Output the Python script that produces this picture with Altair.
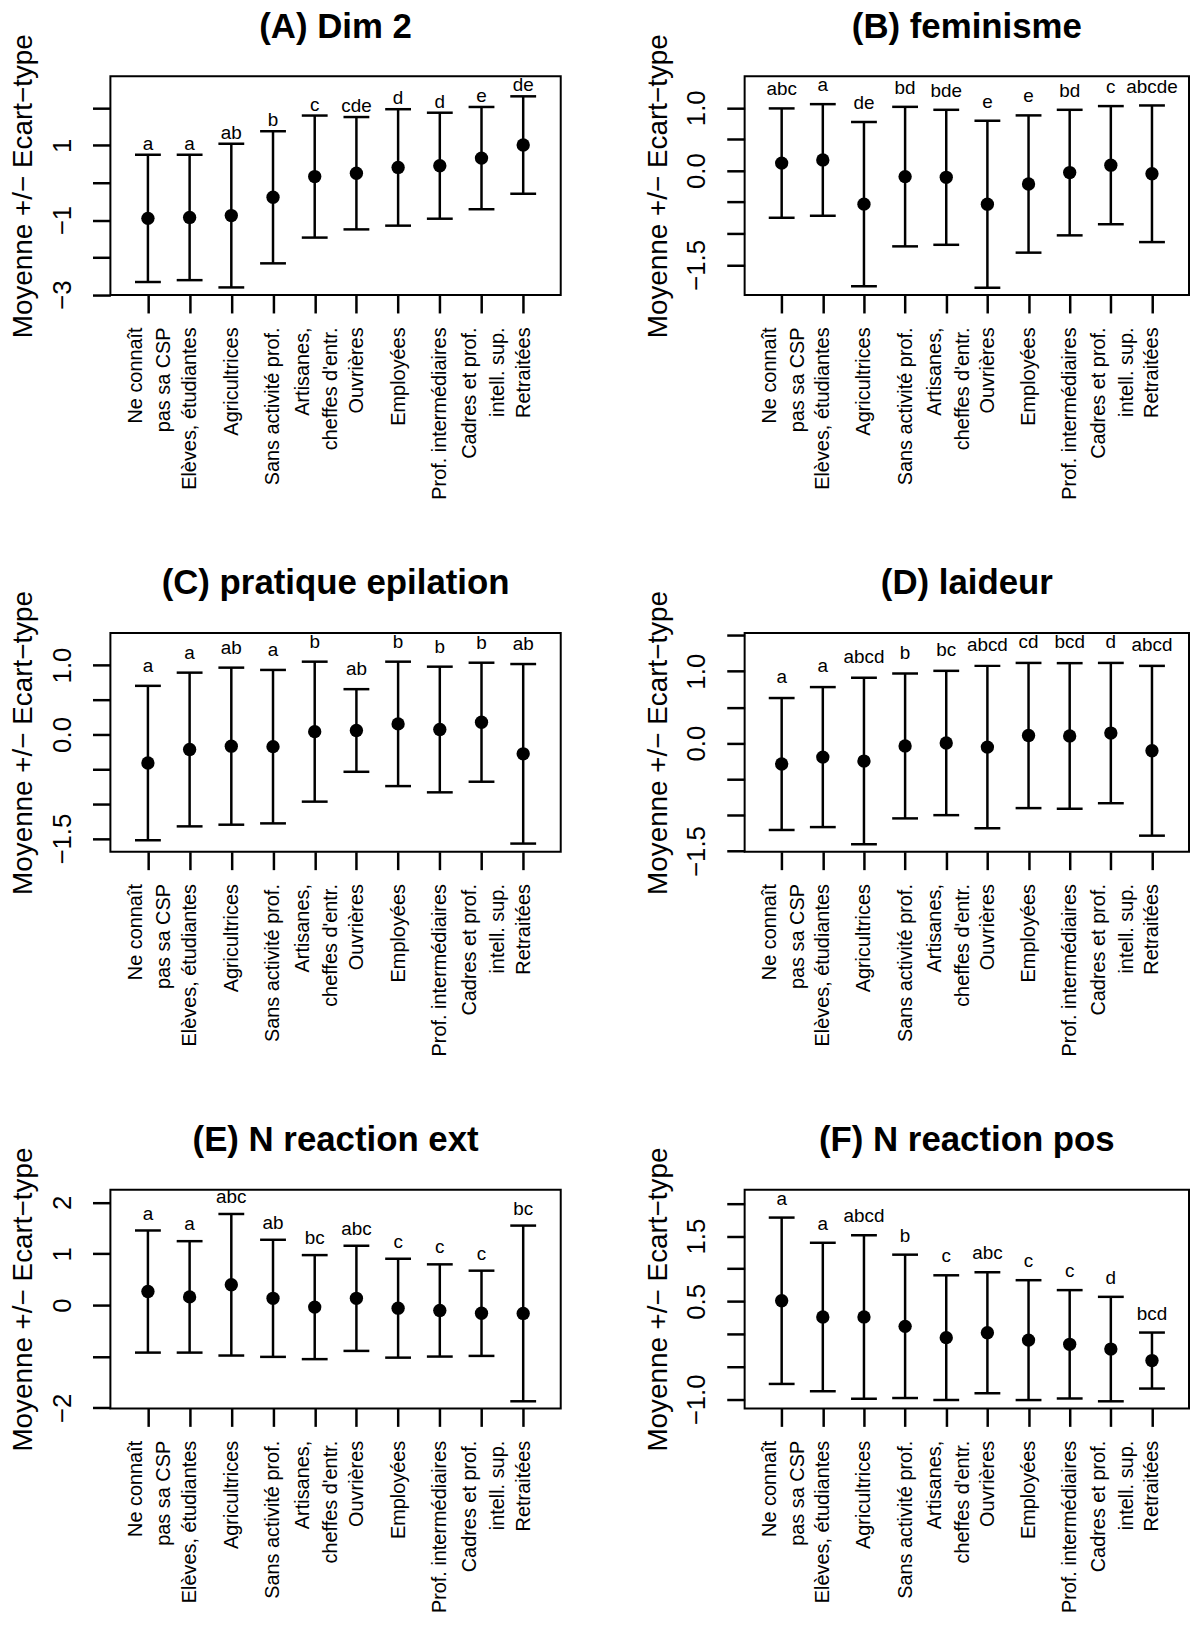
import json
import altair as alt
import pandas as pd

categories = [
    "Ne connaît\npas sa CSP", "Elèves, étudiantes", "Agricultrices",
    "Sans activité prof.", "Artisanes,\ncheffes d'entr.", "Ouvrières",
    "Employées", "Prof. intermédiaires", "Cadres et prof.\nintell. sup.",
    "Retraitées",
]

titles = ["(A) Dim 2", "(B) feminisme", "(C) pratique epilation",
          "(D) laideur", "(E) N reaction ext", "(F) N reaction pos"]

mean_A = [-0.955, -0.93, -0.88, -0.39, 0.165, 0.255, 0.41, 0.456, 0.66, 1.01]
sd_A = [1.705, 1.68, 1.925, 1.77, 1.635, 1.505, 1.56, 1.42, 1.37, 1.305]
let_A = ["a", "a", "ab", "b", "c", "cde", "d", "d", "e", "de"]

mean_B = [0.12, 0.17, -0.533, -0.095, -0.106, -0.534, -0.213, -0.031, 0.087, -0.05]
sd_B = [0.87, 0.888, 1.307, 1.11, 1.074, 1.329, 1.092, 0.999, 0.94, 1.087]
let_B = ["abc", "a", "de", "bd", "bde", "e", "e", "bd", "c", "abcde"]

mean_C = [-0.412, -0.217, -0.169, -0.176, 0.04, 0.057, 0.152, 0.071, 0.176, -0.279]
sd_C = [1.112, 1.107, 1.131, 1.105, 1.008, 0.595, 0.896, 0.905, 0.857, 1.293]
let_C = ["a", "a", "ab", "a", "b", "ab", "b", "b", "b", "ab"]

mean_D = [-0.29, -0.194, -0.249, -0.039, 0.002, -0.055, 0.106, 0.1, 0.14, -0.106]
sd_D = [0.917, 0.973, 1.157, 1.007, 1.003, 1.129, 1.009, 1.012, 0.975, 1.18]
let_D = ["a", "a", "abcd", "b", "bc", "abcd", "cd", "bcd", "d", "abcd"]

mean_E = [0.265, 0.161, 0.397, 0.133, -0.038, 0.133, -0.059, -0.103, -0.158, -0.161]
sd_E = [1.188, 1.084, 1.377, 1.139, 1.012, 1.023, 0.962, 0.897, 0.829, 1.709]
let_E = ["a", "a", "abc", "ab", "bc", "abc", "c", "c", "c", "bc"]

mean_F = [0.51, 0.261, 0.2625, 0.118, -0.055, 0.02, -0.093, -0.157, -0.23, -0.406]
sd_F = [1.274, 1.137, 1.2525, 1.098, 0.955, 0.927, 0.918, 0.83, 0.80, 0.429]
let_F = ["a", "a", "abcd", "b", "c", "abc", "c", "c", "d", "bcd"]

# y axis: domain, tick values, labelled ticks
dom_A, ticks_A, shown_A = [-3.01, 2.85], [-3, -2, -1, 0, 1, 2], [-3, -1, 1]
dom_B, ticks_B, shown_B = [-1.98, 1.5], [-1.5, -1.0, -0.5, 0.0, 0.5, 1.0], [-1.5, 0.0, 1.0]
dom_C, ticks_C, shown_C = [-1.69, 1.46], [-1.5, -1.0, -0.5, 0.0, 0.5, 1.0], [-1.5, 0.0, 1.0]
dom_D, ticks_D, shown_D = [-1.51, 1.53], [-1.5, -1.0, -0.5, 0.0, 0.5, 1.0, 1.5], [-1.5, 0.0, 1.0]
dom_E, ticks_E, shown_E = [-2.01, 2.245], [-2, -1, 0, 1, 2], [-2, 0, 1, 2]
dom_F, ticks_F, shown_F = [-1.14, 2.21], [-1.0, -0.5, 0.0, 0.5, 1.0, 1.5, 2.0], [-1.0, 0.5, 1.5]

FONT = "Liberation Sans"
H = 220


def panel(title, means, sds, letters, dom, ticks, shown, fmt, width, dy):
    df = pd.DataFrame({"cat": categories, "mean": means, "sd": sds, "letter": letters})
    base = alt.Chart(df).transform_calculate(
        lo="datum.mean - datum.sd", hi="datum.mean + datum.sd"
    )
    xscale = alt.Scale(type="point", padding=0.9)
    xaxis = alt.Axis(
        labelAngle=270, labelAlign="right", labelBaseline="middle",
        labelExpr="split(datum.label, '\\n')", labelFontSize=20,
        labelLineHeight=28, labelPadding=14, labelLimit=400,
        labelOffset={"condition": {"test": "indexof(datum.value, '\\n') >= 0",
                                   "value": -12}, "value": 0},
        labelColor="black", labelFont=FONT, labelOverlap=False,
        tickSize=18, tickWidth=2.5, tickColor="black",
        domain=False, grid=False, title=None,
    )
    x = alt.X("cat:N", sort=categories, scale=xscale, axis=xaxis)
    yscale = alt.Scale(domain=dom, nice=False, zero=False)
    yaxis = alt.Axis(
        values=ticks, format=fmt,
        labelExpr="indexof(" + json.dumps(shown) + ", datum.value) >= 0 ? datum.label : ''",
        labelAngle=270, labelAlign="center", labelBaseline="alphabetic",
        labelPadding=22, labelFontSize=26, labelFont=FONT, labelColor="black",
        labelOverlap=False, labelFlush=False,
        tickSize=18, tickWidth=2.5, tickColor="black",
        domain=False, grid=False,
        title="Moyenne +/− Ecart−type", titleFontSize=28, titleFont=FONT,
        titleFontWeight="normal", titleColor="black", titleAngle=270,
        titleX=-79, titleY=H / 2, titleAlign="center", titleBaseline="alphabetic",
    )

    def Y(field):
        return alt.Y(field, scale=yscale, axis=yaxis)

    rules = base.mark_rule(strokeWidth=2.5, color="black").encode(
        x=x, y=Y("lo:Q"), y2="hi:Q"
    )
    cap_hi = base.mark_tick(orient="horizontal", size=26, thickness=2.5,
                            color="black", opacity=1).encode(x=x, y=Y("hi:Q"))
    cap_lo = base.mark_tick(orient="horizontal", size=26, thickness=2.5,
                            color="black", opacity=1).encode(x=x, y=Y("lo:Q"))
    dots = base.mark_circle(size=180, color="black", opacity=1).encode(
        x=x, y=Y("mean:Q"))
    txt = base.mark_text(fontSize=19, font=FONT, baseline="alphabetic",
                         align="center", dy=dy, color="black").encode(
        x=x, y=Y("hi:Q"), text="letter:N")
    return alt.layer(rules, cap_hi, cap_lo, dots, txt).properties(
        width=width, height=H,
        title=alt.TitleParams(title, fontSize=35, font=FONT, fontWeight="bold",
                              color="black", frame="group", anchor="middle",
                              baseline="alphabetic", offset=-39),
    )


pA = panel(titles[0], mean_A, sd_A, let_A, dom_A, ticks_A, shown_A, "d", 453, -5)
pB = panel(titles[1], mean_B, sd_B, let_B, dom_B, ticks_B, shown_B, ".1f", 447, -13)
pC = panel(titles[2], mean_C, sd_C, let_C, dom_C, ticks_C, shown_C, ".1f", 453, -14)
pD = panel(titles[3], mean_D, sd_D, let_D, dom_D, ticks_D, shown_D, ".1f", 447, -15)
pE = panel(titles[4], mean_E, sd_E, let_E, dom_E, ticks_E, shown_E, "d", 453, -11)
pF = panel(titles[5], mean_F, sd_F, let_F, dom_F, ticks_F, shown_F, ".1f", 447, -13)

chart = alt.concat(
    pA, pB, pC, pD, pE, pF, columns=2,
    spacing={"row": 340, "column": 185}, bounds="flush",
).configure(
    padding={"left": 0, "top": -4, "right": 0, "bottom": 0},
    background="white", font=FONT,
).configure_view(stroke="black", strokeWidth=2)

chart.save("out.html", embed_options={"renderer": "svg", "actions": False})
